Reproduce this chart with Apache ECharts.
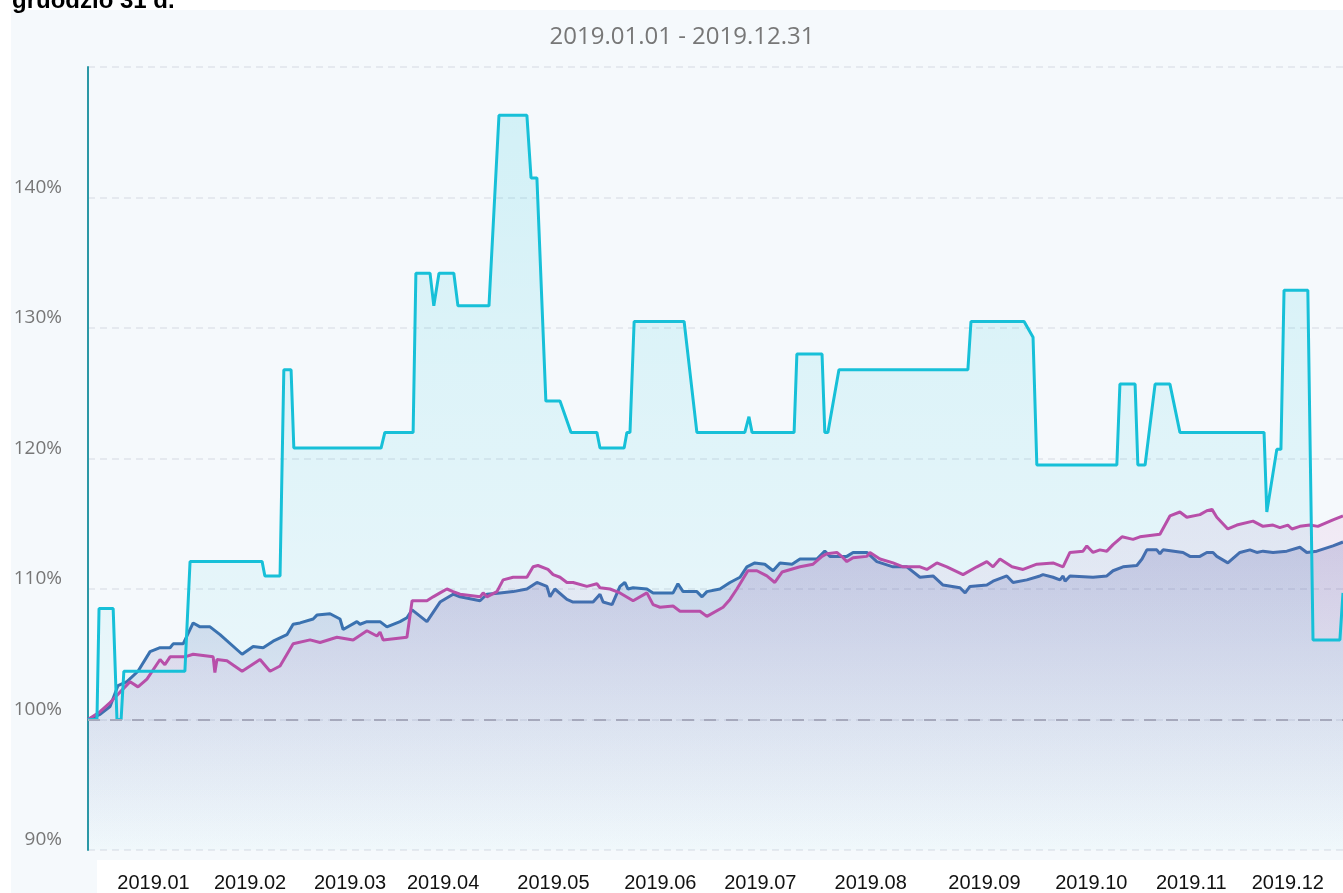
<!DOCTYPE html>
<html><head><meta charset="utf-8">
<script src="https://cdn.jsdelivr.net/npm/echarts@6/dist/echarts.min.js"></script>
<style>html,body{margin:0;padding:0;background:#fff;overflow:hidden}#c{width:1343px;height:893px}</style>
</head><body><div id="c"></div><script>
// ---- data ----
const pageTitle = 'gruodžio 31 d.';
const periodLabel = '2019.01.01 - 2019.12.31';
const monthLabels = ['2019.01','2019.02','2019.03','2019.04','2019.05','2019.06','2019.07','2019.08','2019.09','2019.10','2019.11','2019.12'];
const monthLabelDays = [19,47,76,103,135,166,195,227,260,291,320,348]; // day of year where each label sits
const yMin = 90, yMax = 150, yStep = 10;
const baseLine = 100;

// [day of year, value %]
const cyanSeries = [
[0,100.0],[2.6,100.0],[3.2,108.5],[7.3,108.5],[8.4,100.0],[9.6,100.0],[10.4,103.7],[28.1,103.7],
[29.6,112.1],[50.5,112.1],[51.3,111.0],[55.7,111.0],[56.8,126.8],[58.9,126.8],[59.7,120.8],[85.0,120.8],
[86.1,122.0],[94.3,122.0],[95.1,134.2],[99.2,134.2],[100.3,131.7],[101.8,134.2],[106.1,134.2],[107.3,131.7],
[116.3,131.7],[119.2,146.3],[127.3,146.3],[128.5,141.5],[130.2,141.5],[132.8,124.4],[136.9,124.4],[140.1,122.0],
[147.6,122.0],[148.5,120.8],[155.5,120.8],[156.3,122.0],[157.2,122.0],[158.4,130.5],[172.9,130.5],[176.6,122.0],
[190.5,122.0],[191.7,123.2],[192.6,122.0],[204.8,122.0],[205.6,128.0],[212.9,128.0],[213.7,122.0],[214.6,122.0],
[217.8,126.8],[255.2,126.8],[256.1,130.5],[271.5,130.5],[274.1,129.3],[275.2,119.5],[298.4,119.5],[299.3,125.7],
[303.7,125.7],[304.5,119.5],[306.6,119.5],[309.5,125.7],[313.8,125.7],[316.7,122.0],[341.1,122.0],[341.9,115.9],
[344.8,120.7],[346.0,120.7],[346.9,132.9],[353.8,132.9],[355.3,106.1],[363.1,106.1],[364,109.7]
];
const blueSeries = [
[0,100.0],[3.5,100.4],[6.4,101.0],[8.7,102.6],[11.3,102.9],[14.5,103.7],[18.0,105.2],[20.9,105.5],[23.8,105.5],
[24.7,105.8],[27.6,105.8],[28.7,106.4],[30.5,107.4],[32.5,107.1],[35.4,107.1],[38.3,106.5],[44.7,105.0],[47.9,105.6],
[50.8,105.5],[53.7,106.0],[57.7,106.5],[59.5,107.3],[61.5,107.4],[65.3,107.7],[66.4,108.0],[70.2,108.1],[73.1,107.7],
[74.0,106.9],[78.0,107.5],[78.9,107.3],[80.9,107.5],[84.7,107.5],[86.7,107.1],[90.5,107.5],[92.5,107.8],[94.0,108.4],
[98.3,107.5],[102.1,109.0],[105.9,109.6],[107.9,109.4],[113.7,109.1],[115.7,109.6],[119.5,109.7],[123.3,109.8],
[127.3,110.0],[130.2,110.5],[133.1,110.2],[134.0,109.4],[135.4,110.0],[138.9,109.2],[140.7,109.0],[146.5,109.0],
[148.5,109.6],[149.4,109.0],[152.0,108.8],[154.3,110.2],[155.7,110.5],[156.6,110.0],[158.1,110.1],[162.1,110.0],
[163.9,109.7],[169.7,109.7],[171.1,110.4],[172.6,109.8],[176.6,109.8],[178.1,109.4],[179.5,109.8],[183.3,110.0],
[186.2,110.5],[189.1,110.9],[191.1,111.7],[193.4,112.0],[196.3,111.9],[198.7,111.4],[200.7,112.0],[204.2,111.9],
[206.5,112.3],[211.4,112.3],[213.7,112.9],[215.2,112.5],[220.1,112.5],[221.9,112.8],[225.9,112.8],[228.8,112.1],
[233.5,111.7],[237.5,111.7],[241.3,110.9],[245.1,111.0],[248.0,110.3],[252.9,110.1],[254.4,109.7],[255.8,110.2],
[260.7,110.3],[262.5,110.6],[266.5,111.0],[268.3,110.5],[272.3,110.7],[276.1,111.0],[277.0,111.1],[279.9,110.9],
[281.9,110.7],[282.8,111.0],[283.4,110.6],[284.8,111.0],[291.5,110.9],[295.5,111.0],[297.3,111.4],[300.2,111.7],
[304.2,111.8],[305.7,112.3],[307.1,113.0],[310.0,113.0],[310.9,112.7],[311.8,113.0],[317.6,112.8],[319.6,112.5],
[322.5,112.5],[324.5,112.8],[326.3,112.8],[327.4,112.5],[330.6,112.0],[334.1,112.8],[337.0,113.0],[339.0,112.8],
[340.8,112.9],[343.7,112.8],[347.7,112.9],[351.5,113.2],[353.5,112.8],[356.4,112.9],[361.1,113.3],[364,113.6]
];
const pinkSeries = [
[0,100.0],[3.5,100.6],[6.4,101.3],[9.3,102.1],[12.2,102.9],[14.5,102.5],[17.1,103.1],[20.9,104.6],[22.3,104.2],
[23.8,104.8],[28.1,104.8],[30.5,105.0],[36.3,104.8],[36.8,103.6],[37.4,104.6],[40.3,104.5],[44.7,103.7],[49.9,104.6],
[52.8,103.7],[55.7,104.1],[59.5,105.8],[64.4,106.1],[67.3,105.9],[72.2,106.3],[76.9,106.1],[80.9,106.8],[83.8,106.4],
[84.7,106.7],[85.6,106.1],[92.5,106.3],[94.0,109.1],[98.3,109.1],[100.1,109.4],[102.1,109.7],[104.1,110.0],
[105.9,109.8],[107.9,109.6],[113.7,109.4],[114.6,109.7],[115.7,109.4],[118.6,109.8],[120.4,110.7],[123.3,110.9],
[127.3,110.9],[129.1,111.7],[130.5,111.8],[133.4,111.5],[134.9,111.1],[136.9,110.9],[138.9,110.5],[140.7,110.5],
[144.7,110.2],[147.6,110.4],[148.5,110.1],[151.4,110.0],[154.3,109.7],[158.1,109.1],[162.1,109.7],[163.9,108.8],
[165.9,108.6],[169.7,108.7],[171.7,108.3],[177.5,108.3],[179.5,107.9],[184.2,108.6],[186.2,109.2],[188.2,110.0],
[191.4,111.4],[194.0,111.4],[196.9,111.0],[199.2,110.5],[201.3,111.3],[206.5,111.7],[210.3,111.9],[212.9,112.5],
[214.3,112.7],[217.2,112.8],[219.0,112.4],[220.1,112.1],[221.9,112.4],[225.9,112.5],[226.8,112.8],[229.7,112.3],
[233.5,112.0],[236.4,111.7],[241.3,111.7],[243.3,111.5],[246.2,112.0],[249.1,111.7],[253.8,111.1],[257.8,111.7],
[260.7,112.1],[262.5,111.7],[264.5,112.3],[268.0,111.7],[271.2,111.5],[275.2,111.9],[279.9,112.0],[282.8,111.7],
[284.8,112.8],[288.6,112.9],[289.7,113.3],[291.5,112.8],[293.5,113.0],[295.5,112.9],[297.3,113.4],[299.9,114.0],
[303.1,113.8],[305.1,114.0],[310.9,114.2],[313.8,115.6],[316.7,115.9],[318.7,115.5],[322.5,115.7],[324.5,116.0],
[326.0,116.1],[327.4,115.5],[330.6,114.6],[333.2,114.9],[337.9,115.2],[340.8,114.8],[343.7,114.9],[345.7,114.7],
[348.0,114.9],[349.2,114.6],[351.5,114.8],[354.4,114.9],[356.7,114.8],[361.1,115.3],[364,115.6]
];

// ---- chart ----
const chart = echarts.init(document.getElementById('c'), null, {renderer:'canvas'});
const grad = (c, a1, a2) => ({type:'linear',x:0,y:0,x2:0,y2:1,colorStops:[{offset:0,color:`rgba(${c},${a1})`},{offset:1,color:`rgba(${c},${a2})`}]});

chart.setOption({
  backgroundColor:'#ffffff',
  animation:false,
  graphic:[
    {type:'rect', z:-20, silent:true, shape:{x:11,y:10,width:1400,height:900}, style:{fill:'#f5f9fc'}},
    {type:'rect', z:-19, silent:true, shape:{x:97,y:860,width:1300,height:40}, style:{fill:'#ffffff'}},
    {type:'text', z:10, silent:true, x:12, y:13, style:{text:pageTitle, fill:'#000', fontSize:24, fontWeight:'bold', fontFamily:'Liberation Sans, Arial', verticalAlign:'bottom'}},
    {type:'text', z:10, silent:true, x:682, y:37, style:{text:periodLabel, fill:'#777777', fontSize:24, fontFamily:'Open Sans', align:'center', verticalAlign:'middle'}}
  ],
  grid:{left:88, right:0, top:67, bottom:42, containLabel:false},
  xAxis:{
    type:'value', min:0, max:364,
    axisLine:{show:false}, axisTick:{show:false}, splitLine:{show:false},
    axisLabel:{
      customValues: monthLabelDays,
      formatter: v => { const i = monthLabelDays.indexOf(v); return i >= 0 ? monthLabels[i] : ''; },
      color:'#111', fontSize:20, fontFamily:'Liberation Sans, Arial', margin:23
    }
  },
  yAxis:{
    type:'value', min:yMin, max:yMax, interval:yStep,
    axisLine:{show:true, lineStyle:{color:'#2b98a6', width:2}},
    axisTick:{show:false},
    splitLine:{show:true, lineStyle:{color:'#dfe4ea', width:1.5, type:[7,5]}},
    axisLabel:{
      formatter: v => v === yMax ? '' : v + '%',
      color:'#777777', fontSize:19, fontFamily:'Open Sans', margin:26,
      verticalAlign:'bottom', lineHeight:20
    }
  },
  series:[
    {name:'cyanArea', type:'line', data:cyanSeries, symbol:'none', z:1, silent:true,
     lineStyle:{width:0}, areaStyle:{color:grad('0,190,215',0.2,0.03), origin:'start'}},
    {name:'blue', type:'line', data:blueSeries, symbol:'none', z:2,
     lineStyle:{color:'#3a72b0', width:3}, areaStyle:{color:grad('45,55,150',0.26,0.0), origin:'start'},
     markLine:{silent:true, symbol:'none', label:{show:false}, data:[{yAxis:baseLine}],
       lineStyle:{color:'#a6a9bc', width:2, type:[12,10]}}},
    {name:'pink', type:'line', data:pinkSeries, symbol:'none', z:3,
     lineStyle:{color:'#b84fa9', width:3}, areaStyle:{color:grad('190,60,160',0.12,0.0), origin:'start'}},
    {name:'cyanLine', type:'line', data:cyanSeries, symbol:'none', z:4,
     lineStyle:{color:'#17c0d8', width:3}}
  ]
});
</script></body></html>
